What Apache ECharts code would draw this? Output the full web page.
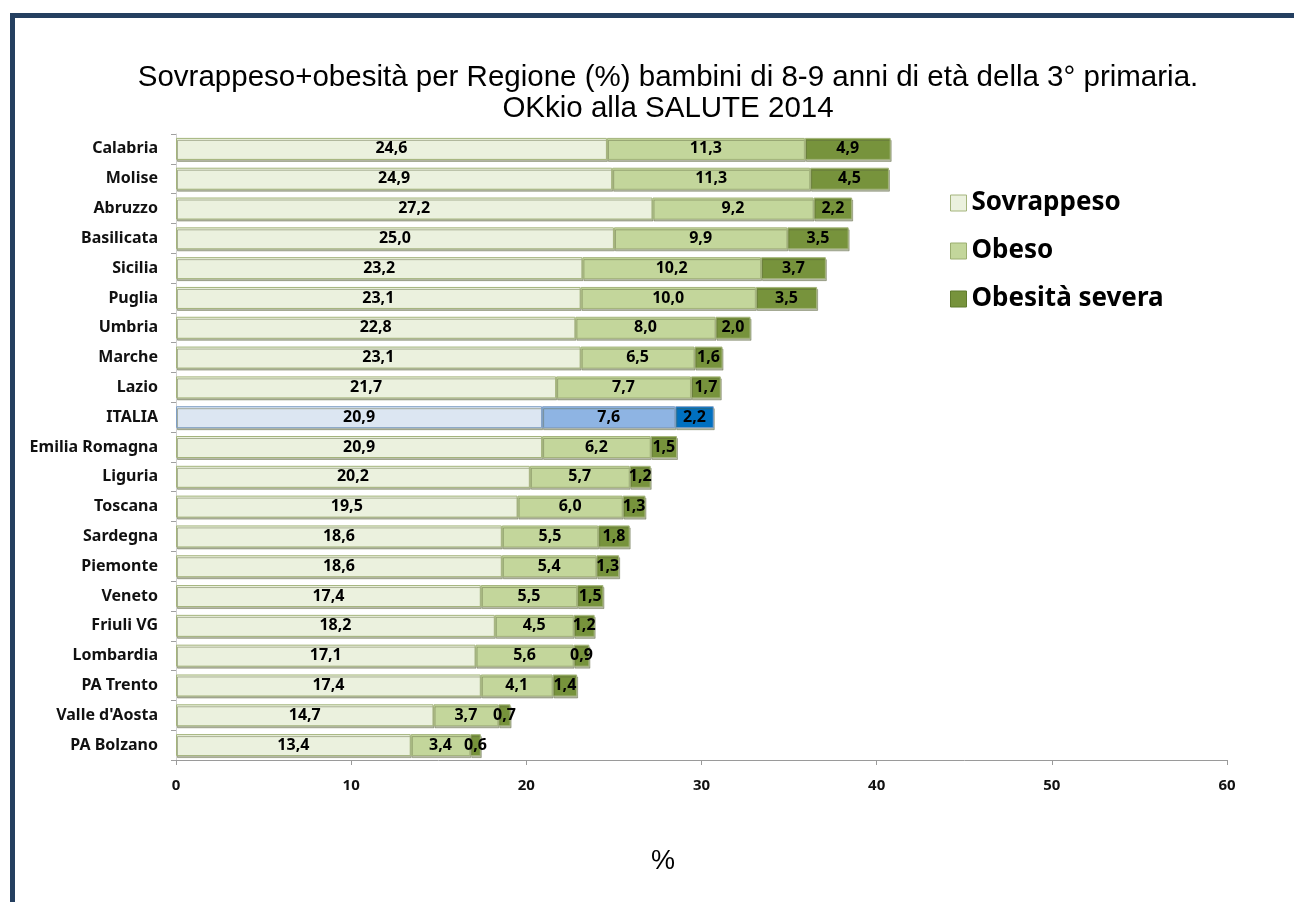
<!DOCTYPE html>
<html>
<head>
<meta charset="utf-8">
<script src="https://cdn.jsdelivr.net/npm/echarts@6/dist/echarts.min.js"></script>
<style>
html, body { margin: 0; padding: 0; background: #fff; }
#frame { position: absolute; left: 10px; top: 13px; width: 1284px; height: 889px;
  border-top: 5px solid #243f60; border-left: 5px solid #243f60; box-sizing: border-box; }
#chart { position: absolute; left: 0; top: 0; width: 1294px; height: 902px; }
</style>
</head>
<body>
<div id="frame"></div>
<div id="chart"></div>
<script>
// regioni, dall'alto verso il basso
var regioni = ['Calabria', 'Molise', 'Abruzzo', 'Basilicata', 'Sicilia', 'Puglia', 'Umbria', 'Marche', 'Lazio',
    'ITALIA', 'Emilia Romagna', 'Liguria', 'Toscana', 'Sardegna', 'Piemonte', 'Veneto', 'Friuli VG',
    'Lombardia', 'PA Trento', "Valle d'Aosta", 'PA Bolzano'];
var sovrappeso = [24.6, 24.9, 27.2, 25.0, 23.2, 23.1, 22.8, 23.1, 21.7, 20.9, 20.9, 20.2, 19.5, 18.6, 18.6, 17.4, 18.2, 17.1, 17.4, 14.7, 13.4];
var obeso = [11.3, 11.3, 9.2, 9.9, 10.2, 10.0, 8.0, 6.5, 7.7, 7.6, 6.2, 5.7, 6.0, 5.5, 5.4, 5.5, 4.5, 5.6, 4.1, 3.7, 3.4];
var severa = [4.9, 4.5, 2.2, 3.5, 3.7, 3.5, 2.0, 1.6, 1.7, 2.2, 1.5, 1.2, 1.3, 1.8, 1.3, 1.5, 1.2, 0.9, 1.4, 0.7, 0.6];
var xTicks = [0, 10, 20, 30, 40, 50, 60];

var fontLbl = '"Noto Sans", sans-serif';
var fontTit = '"Liberation Sans", Arial, sans-serif';

// colori: verde per le regioni, blu per ITALIA
var colori = {
    'Sovrappeso': ['#ebf1de', '#dce6f2'],
    'Obeso': ['#c3d69b', '#8eb4e3'],
    'Obesità severa': ['#77933c', '#0070c0']
};

function buildData(nome, valori) {
    var res = [];
    for (var i = 0; i < valori.length; i++) {
        var it = regioni[i] == 'ITALIA';
        res.push({
            value: valori[i],
            itemStyle: {color: colori[nome][it ? 1 : 0], borderColor: it ? '#7f9fc6' : '#a4b47c'}
        });
    }
    return res;
}

function serie(nome, valori) {
    return {
        name: nome,
        type: 'bar',
        stack: 'tot',
        barWidth: 22,
        data: buildData(nome, valori),
        itemStyle: {borderWidth: 1, shadowColor: 'rgba(90,100,60,0.45)', shadowOffsetX: 1, shadowOffsetY: 2},
        label: {
            show: true,
            position: 'inside',
            color: '#000',
            fontFamily: fontLbl,
            fontWeight: 'bold',
            fontSize: 16,
            formatter: function (p) { return p.value.toFixed(1).replace('.', ','); }
        }
    };
}

var option = {
    animation: false,
    title: {
        text: 'Sovrappeso+obesità per Regione (%) bambini di 8-9 anni di età della 3° primaria.\nOKkio alla SALUTE 2014',
        left: 663,
        textAlign: 'center',
        top: 57,
        textStyle: {fontFamily: fontTit, fontWeight: 'normal', fontSize: 29.5, lineHeight: 31, color: '#000'}
    },
    legend: {
        orient: 'vertical',
        left: 945,
        top: 185,
        itemGap: 22,
        itemWidth: 16,
        itemHeight: 16,
        icon: 'rect',
        data: [
            {name: 'Sovrappeso', itemStyle: {color: '#ebf1de', borderColor: '#a4b47c', borderWidth: 1}},
            {name: 'Obeso', itemStyle: {color: '#c3d69b', borderColor: '#9bae70', borderWidth: 1}},
            {name: 'Obesità severa', itemStyle: {color: '#77933c', borderColor: '#5f7a2c', borderWidth: 1}}
        ],
        textStyle: {fontFamily: fontLbl, fontWeight: 'bold', fontSize: 26, color: '#000'}
    },
    grid: {left: 176, right: 67, top: 134, bottom: 142, containLabel: false},
    xAxis: {
        type: 'value',
        min: 0,
        max: 60,
        interval: 10,
        axisLine: {show: true, lineStyle: {color: '#9a9a9a'}},
        axisTick: {show: true, length: 5, lineStyle: {color: '#9a9a9a'}},
        splitLine: {show: false},
        axisLabel: {
            margin: 18,
            fontFamily: fontLbl,
            fontWeight: 'bold',
            fontSize: 15,
            color: '#111',
            formatter: function (v) { return xTicks.indexOf(v) >= 0 ? String(v) : ''; }
        }
    },
    yAxis: {
        type: 'category',
        inverse: true,
        data: regioni,
        axisLine: {show: true, lineStyle: {color: '#d0d0d0'}},
        axisTick: {show: true, length: 5, lineStyle: {color: '#a0a0a0'}},
        axisLabel: {
            margin: 18,
            fontFamily: fontLbl,
            fontWeight: 'bold',
            fontSize: 16,
            color: '#111'
        }
    },
    graphic: [{
        type: 'text',
        left: 651,
        top: 848,
        style: {text: '%', fontFamily: fontTit, fontSize: 27, fill: '#000'}
    }],
    series: [
        serie('Sovrappeso', sovrappeso),
        serie('Obeso', obeso),
        serie('Obesità severa', severa)
    ]
};

var chart = echarts.init(document.getElementById('chart'));
chart.setOption(option);
</script>
</body>
</html>
